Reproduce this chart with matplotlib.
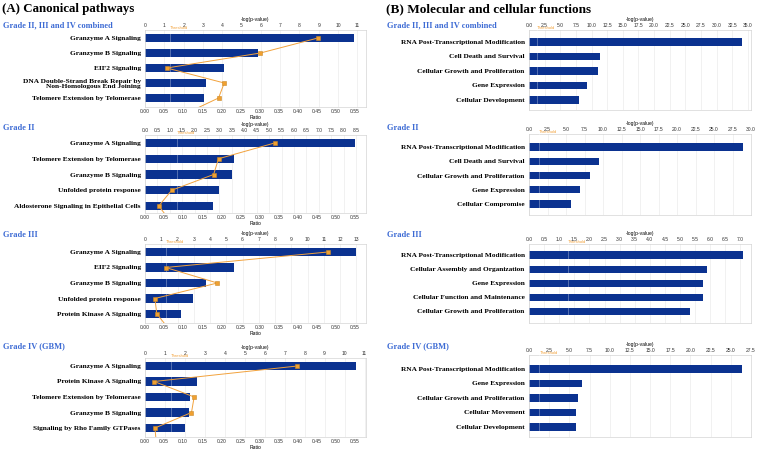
import matplotlib.pyplot as plt
import matplotlib.transforms as mtransforms
from matplotlib.ticker import MultipleLocator, FormatStrFormatter


W, H = 758, 450

BAR_COLOR = "#0b3290"
LINE_COLOR = "#f2a23c"
GRADE_COLOR = "#3d6bd4"
THRESHOLD = 1.3

grade_titles = ["Grade II, III and IV combined", "Grade II", "Grade III", "Grade IV (GBM)"]

# (A) canonical pathways
cp_combined_terms = [
    "Granzyme A Signaling",
    "Granzyme B Signaling",
    "EIF2 Signaling",
    "DNA Double-Strand Break Repair by\nNon-Homologous End Joining",
    "Telomere Extension by Telomerase",
]
cp_combined_logp = [10.85, 5.88, 4.09, 3.16, 3.07]
cp_combined_ratio = [0.454, 0.303, 0.057, 0.208, 0.193, 0.11]

cp_grade2_terms = [
    "Granzyme A Signaling",
    "Telomere Extension by Telomerase",
    "Granzyme B Signaling",
    "Unfolded protein response",
    "Aldosterone Signaling in Epithelial Cells",
]
cp_grade2_logp = [8.47, 3.60, 3.50, 2.97, 2.73]
cp_grade2_ratio = [0.340, 0.193, 0.180, 0.070, 0.036, 0.068]

cp_grade3_terms = [
    "Granzyme A Signaling",
    "EIF2 Signaling",
    "Granzyme B Signaling",
    "Unfolded protein response",
    "Protein Kinase A Signaling",
]
cp_grade3_logp = [13.0, 5.50, 3.76, 2.97, 2.24]
cp_grade3_ratio = [0.480, 0.054, 0.190, 0.026, 0.031, 0.064]

cp_grade4_terms = [
    "Granzyme A Signaling",
    "Protein Kinase A Signaling",
    "Telomere Extension by Telomerase",
    "Granzyme B Signaling",
    "Signaling by Rho Family GTPases",
]
cp_grade4_logp = [10.55, 2.61, 2.24, 2.19, 2.01]
cp_grade4_ratio = [0.400, 0.024, 0.129, 0.122, 0.026, 0.030]

# (B) molecular and cellular functions
mf_combined_terms = [
    "RNA Post-Transcriptional Modification",
    "Cell Death and Survival",
    "Cellular Growth and Proliferation",
    "Gene Expression",
    "Cellular Development",
]
mf_combined_logp = [34.1, 11.3, 11.0, 9.27, 7.93]

mf_grade2_terms = [
    "RNA Post-Transcriptional Modification",
    "Cell Death and Survival",
    "Cellular Growth and Proliferation",
    "Gene Expression",
    "Cellular Compromise",
]
mf_grade2_logp = [28.9, 9.5, 8.28, 6.9, 5.65]

mf_grade3_terms = [
    "RNA Post-Transcriptional Modification",
    "Cellular Assembly and Organization",
    "Gene Expression",
    "Cellular Function and Maintenance",
    "Cellular Growth and Proliferation",
]
mf_grade3_logp = [7.08, 5.88, 5.77, 5.76, 5.32]

mf_grade4_terms = [
    "RNA Post-Transcriptional Modification",
    "Gene Expression",
    "Cellular Growth and Proliferation",
    "Cellular Movement",
    "Cellular Development",
]
mf_grade4_logp = [26.35, 6.52, 6.07, 5.87, 5.78]


fig = plt.figure(figsize=(W / 100, H / 100), dpi=100)


def px_text(x, y, s, **kw):
    fig.text(x / W, 1 - y / H, s, **kw)


def style_ticks(axis, step, fmt):
    axis.set_major_locator(MultipleLocator(step))
    axis.set_major_formatter(FormatStrFormatter(fmt))


def add_panel(left, right, top, bottom, first, last, terms, logp, xmax, step, fmt,
              ratio=None, bar_h=0.52):
    ax = fig.add_axes([left / W, 1 - bottom / H, (right - left) / W, (bottom - top) / H])
    pitch = (last - first) / (len(terms) - 1)
    ylo = (bottom - first) / pitch
    yhi = (top - first) / pitch

    ax.barh(range(len(terms)), logp, height=bar_h, color=BAR_COLOR, zorder=2)
    ax.axvline(THRESHOLD, color="white", lw=0.6, alpha=0.35, zorder=3)
    ax.set_xlim(0, xmax)
    ax.set_ylim(ylo, yhi)

    if ratio is not None:
        ax2 = ax.twiny()
        ax2.set_xlim(0, 0.58)
        ax2.xaxis.tick_bottom()
        ax2.xaxis.set_label_position("bottom")
        style_ticks(ax2.xaxis, 0.05, "%.2f")
        ax2.set_xlabel("Ratio", fontsize=3.6, family="Liberation Sans", labelpad=1)
        ax2.tick_params(axis="x", length=0, pad=1.5, labelsize=3.6, colors="#333333")
        for lab in ax2.get_xticklabels():
            lab.set_family("Liberation Sans")
        for sp in ax2.spines.values():
            sp.set_visible(False)
        ax2.plot(ratio, range(len(ratio)), color=LINE_COLOR, lw=0.7, marker="s",
                 ms=2.6, mfc="#f0a030", mec="#c98a2a", mew=0.4, zorder=4)

    ax.xaxis.tick_top()
    ax.xaxis.set_label_position("top")
    style_ticks(ax.xaxis, step, fmt)
    ax.set_xlabel("-log(p-value)", fontsize=3.6, family="Liberation Sans", labelpad=1.5)
    ax.tick_params(axis="x", length=0, pad=1.5, labelsize=3.6, colors="#333333")
    for lab in ax.get_xticklabels():
        lab.set_family("Liberation Sans")

    ax.set_yticks(range(len(terms)))
    ax.set_yticklabels(terms, family="Liberation Serif", fontweight="bold", fontsize=5.3)
    ax.tick_params(axis="y", length=0, pad=3)

    ax.grid(axis="x", color="#ebebeb", lw=0.5, zorder=0)
    ax.set_axisbelow(True)
    for sp in ax.spines.values():
        sp.set_color("#d4d4d4")
        sp.set_linewidth(0.5)

    trans = mtransforms.blended_transform_factory(ax.transData, ax.transAxes)
    ax.text(THRESHOLD, 1.005, "Threshold", transform=trans, ha="left", va="bottom",
            fontsize=3.0, color=LINE_COLOR, family="Liberation Sans")
    return ax


# left column: canonical pathways
px_text(2, 9, "(A) Canonical pathways", fontsize=9.3, fontweight="bold",
        family="Liberation Serif", va="center", ha="left")

cp_sets = [
    (cp_combined_terms, cp_combined_logp, cp_combined_ratio, 11.45, 1, "%d"),
    (cp_grade2_terms, cp_grade2_logp, cp_grade2_ratio, 8.9, 0.5, "%.1f"),
    (cp_grade3_terms, cp_grade3_logp, cp_grade3_ratio, 13.6, 1, "%d"),
    (cp_grade4_terms, cp_grade4_logp, cp_grade4_ratio, 11.07, 1, "%d"),
]
cp_layout = [
    (30, 107, 38, 98, 25),
    (135, 213, 143, 206, 128),
    (244, 323, 252, 314, 235),
    (358, 437, 366, 428, 346),
]
for (terms, logp, ratio, xmax, step, fmt), (top, bottom, first, last, ty), title in zip(
        cp_sets, cp_layout, grade_titles):
    add_panel(145, 366, top, bottom, first, last, terms, logp, xmax, step, fmt,
              ratio=ratio, bar_h=0.53)
    px_text(3, ty, title, fontsize=6.0, fontweight="bold", family="Liberation Serif",
            color=GRADE_COLOR, va="center", ha="left")

# right column: molecular and cellular functions
px_text(386, 9, "(B) Molecular and cellular functions", fontsize=9.5, fontweight="bold",
        family="Liberation Serif", va="center", ha="left")

mf_sets = [
    (mf_combined_terms, mf_combined_logp, 35.5, 2.5),
    (mf_grade2_terms, mf_grade2_logp, 30.0, 2.5),
    (mf_grade3_terms, mf_grade3_logp, 7.35, 0.5),
    (mf_grade4_terms, mf_grade4_logp, 27.5, 2.5),
]
mf_layout = [
    (30, 110, 42, 100, 25),
    (134, 215, 147, 204, 128),
    (244, 323, 255, 311, 235),
    (355, 437, 369, 427, 346),
]
for (terms, logp, xmax, step), (top, bottom, first, last, ty), title in zip(
        mf_sets, mf_layout, grade_titles):
    add_panel(529, 751, top, bottom, first, last, terms, logp, xmax, step, "%.1f",
              bar_h=0.5)
    px_text(387, ty, title, fontsize=6.0, fontweight="bold", family="Liberation Serif",
            color=GRADE_COLOR, va="center", ha="left")

fig.savefig("out.png", dpi=100)
